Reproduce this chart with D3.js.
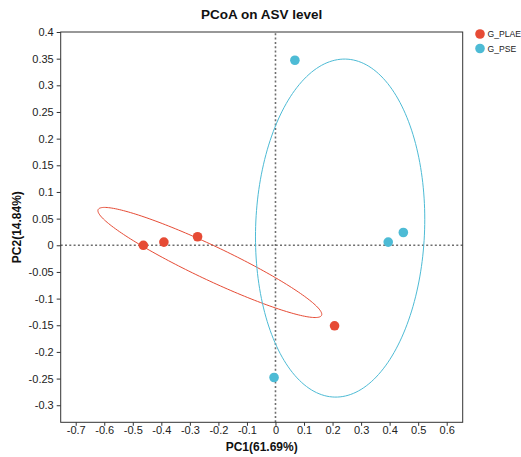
<!DOCTYPE html>
<html>
<head>
<meta charset="utf-8">
<script src="https://cdn.jsdelivr.net/npm/d3@7"></script>
<style>
  html, body { margin: 0; padding: 0; background: #fff; }
  svg { display: block; font-family: "Liberation Sans", Arial, Helvetica, sans-serif; }
</style>
</head>
<body>
<svg id="chart" width="521" height="457"></svg>
<script>
// Sample groups and PCoA coordinates
const groups = ["G_PLAE", "G_PSE"];
const groupColors = ["#E64B35", "#4DBBD5"];
const pc1 = [-0.463, -0.391, -0.273, 0.207, 0.068, 0.448, 0.395, -0.005];
const pc2 = [0.000, 0.006, 0.016, -0.151, 0.347, 0.024, 0.006, -0.248];
const sampleGroup = ["G_PLAE", "G_PLAE", "G_PLAE", "G_PLAE", "G_PSE", "G_PSE", "G_PSE", "G_PSE"];

// Axis ticks and labels
const xTicks = [-0.7, -0.6, -0.5, -0.4, -0.3, -0.2, -0.1, 0, 0.1, 0.2, 0.3, 0.4, 0.5, 0.6];
const yTicks = [0.4, 0.35, 0.3, 0.25, 0.2, 0.15, 0.1, 0.05, 0, -0.05, -0.1, -0.15, -0.2, -0.25, -0.3];
const xDomain = [-0.7526, 0.656];
const yDomain = [-0.332, 0.4];
const titleText = "PCoA on ASV level";
const xLabel = "PC1(61.69%)";
const yLabel = "PC2(14.84%)";

// Ellipse size in units of the group's standard deviation
const ellipseScale = 1.3;

const svg = d3.select("#chart");
const W = 521, H = 457;
const margin = { top: 32, right: 58.3, bottom: 34.7, left: 60.7 };

const x = d3.scaleLinear().domain(xDomain).range([margin.left, W - margin.right]);
const y = d3.scaleLinear().domain(yDomain).range([H - margin.bottom, margin.top]);
const color = d3.scaleOrdinal().domain(groups).range(groupColors);

const points = pc1.map((v, i) => ({ x: v, y: pc2[i], g: sampleGroup[i] }));

// Zero reference lines
const zeroStyle = sel => sel.attr("stroke", "#6e6e6e").attr("stroke-width", 1.6).attr("stroke-dasharray", "2,2.3");
svg.append("line").attr("x1", x.range()[0]).attr("x2", x.range()[1])
  .attr("y1", y(0)).attr("y2", y(0)).call(zeroStyle);
svg.append("line").attr("x1", x(0)).attr("x2", x(0))
  .attr("y1", y.range()[0]).attr("y2", y.range()[1]).call(zeroStyle);

// Confidence ellipses from each group's covariance
function ellipsePath(pts) {
  const n = pts.length;
  const mx = d3.mean(pts, d => d.x), my = d3.mean(pts, d => d.y);
  let sxx = 0, syy = 0, sxy = 0;
  pts.forEach(d => {
    sxx += (d.x - mx) ** 2; syy += (d.y - my) ** 2; sxy += (d.x - mx) * (d.y - my);
  });
  sxx /= (n - 1); syy /= (n - 1); sxy /= (n - 1);
  // Cholesky factor of covariance
  const a = Math.sqrt(sxx);
  const b = sxy / a;
  const c = Math.sqrt(Math.max(syy - b * b, 0));
  const line = [];
  for (let i = 0; i <= 200; i++) {
    const t = (i / 200) * 2 * Math.PI;
    const u = Math.cos(t) * ellipseScale, v = Math.sin(t) * ellipseScale;
    line.push([x(mx + a * u), y(my + b * u + c * v)]);
  }
  return d3.line()(line) + "Z";
}

groups.forEach(g => {
  svg.append("path")
    .attr("d", ellipsePath(points.filter(p => p.g === g)))
    .attr("fill", "none")
    .attr("stroke", color(g))
    .attr("stroke-width", 1);
});

// Sample points
svg.append("g").selectAll("circle").data(points).join("circle")
  .attr("cx", d => x(d.x)).attr("cy", d => y(d.y)).attr("r", 4.8)
  .attr("fill", d => color(d.g));

// Frame
svg.append("rect")
  .attr("x", margin.left).attr("y", margin.top)
  .attr("width", W - margin.left - margin.right)
  .attr("height", H - margin.bottom - margin.top)
  .attr("fill", "none").attr("stroke", "#333").attr("stroke-width", 1);

// Axes
const fmt = v => (Math.abs(v) < 1e-9 ? "0" : String(+v.toFixed(2)));
const xAxis = svg.append("g").attr("transform", `translate(0,${H - margin.bottom})`)
  .call(d3.axisBottom(x).tickValues(xTicks).tickFormat(fmt).tickSize(3.5).tickSizeOuter(0));
const yAxis = svg.append("g").attr("transform", `translate(${margin.left},0)`)
  .call(d3.axisLeft(y).tickValues(yTicks).tickFormat(fmt).tickSize(4).tickSizeOuter(0));
[xAxis, yAxis].forEach(ax => {
  ax.select(".domain").remove();
  ax.selectAll(".tick line").attr("stroke", "#333");
  ax.selectAll(".tick text").attr("fill", "#222").style("font-size", "11px")
    .style("font-family", "'Liberation Sans', Arial, sans-serif");
});
xAxis.selectAll(".tick text").attr("y", 3.5).attr("dy", "0.71em");

// Title and axis labels
const midX = (margin.left + W - margin.right) / 2;
svg.append("text").attr("x", midX).attr("y", 19).attr("text-anchor", "middle")
  .style("font-size", "13.5px").style("font-weight", "bold").attr("fill", "#111").text(titleText);
svg.append("text").attr("x", midX).attr("y", 451).attr("text-anchor", "middle")
  .style("font-size", "12px").style("font-weight", "bold").attr("fill", "#111").text(xLabel);
svg.append("text")
  .attr("transform", `translate(21,${(margin.top + H - margin.bottom) / 2}) rotate(-90)`)
  .attr("text-anchor", "middle")
  .style("font-size", "12px").style("font-weight", "bold").attr("fill", "#111").text(yLabel);

// Legend
const legend = svg.append("g").attr("transform", "translate(480,34)");
groups.forEach((g, i) => {
  const row = legend.append("g").attr("transform", `translate(0,${i * 14.5})`);
  row.append("circle").attr("r", 4.8).attr("fill", color(g));
  row.append("text").attr("x", 7.5).attr("dy", "0.35em")
    .style("font-size", "8.6px").attr("fill", "#222").text(g);
});
</script>
</body>
</html>
